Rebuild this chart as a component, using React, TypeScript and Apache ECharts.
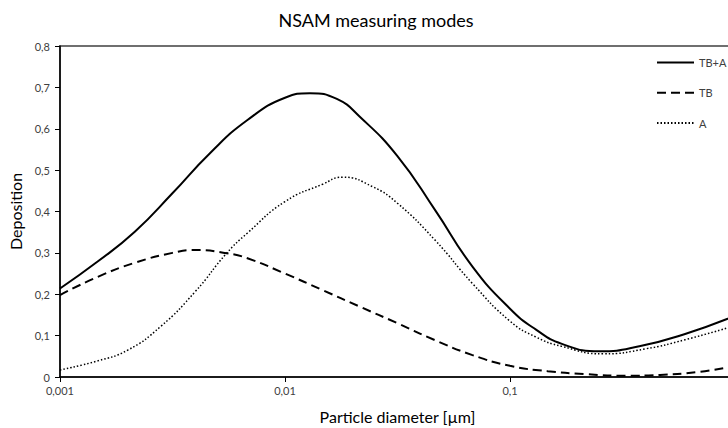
import React, { useEffect, useRef } from "react";
import * as echarts from "echarts";

// TB+A (solid)
const diamTbA = [0.001, 0.00147, 0.00215, 0.00316, 0.00464, 0.00681, 0.01, 0.0129, 0.017, 0.0215, 0.0316, 0.0464, 0.0681, 0.1, 0.13, 0.17, 0.25, 0.38, 0.6, 1.0];
const tbA = [0.214, 0.279, 0.351, 0.444, 0.541, 0.621, 0.675, 0.686, 0.672, 0.629, 0.534, 0.404, 0.267, 0.165, 0.115, 0.08, 0.062, 0.075, 0.104, 0.148];
// TB (dashed)
const diamTb = [0.001, 0.00147, 0.00215, 0.00316, 0.004, 0.0055, 0.00681, 0.01, 0.0147, 0.0215, 0.0316, 0.0464, 0.0681, 0.1, 0.147, 0.215, 0.33, 0.464, 0.681, 1.0];
const tb = [0.198, 0.242, 0.276, 0.3, 0.307, 0.299, 0.287, 0.25, 0.21, 0.17, 0.13, 0.089, 0.053, 0.027, 0.014, 0.007, 0.003, 0.005, 0.012, 0.026];
// A (dotted)
const diamA = [0.001, 0.00147, 0.002, 0.0028, 0.004, 0.0055, 0.00681, 0.01, 0.0147, 0.018, 0.0245, 0.0316, 0.0464, 0.0681, 0.1, 0.13, 0.17, 0.26, 0.4, 0.6, 1.0];
const a = [0.017, 0.039, 0.065, 0.122, 0.207, 0.299, 0.348, 0.424, 0.466, 0.483, 0.46, 0.42, 0.331, 0.226, 0.135, 0.097, 0.074, 0.056, 0.068, 0.09, 0.124];
const seriesNames = ["TB+A", "TB", "A"];

const FONT = "Lato, 'Open Sans', sans-serif";

export default function App() {
  const ref = useRef<HTMLDivElement>(null);
  useEffect(() => {
    if (!ref.current) return;
    const chart = echarts.init(ref.current, undefined, { renderer: "svg" });
    const pairs = (xs: number[], ys: number[]) => xs.map((d, i) => [d, ys[i]]);
    chart.setOption({
      animation: false,
      backgroundColor: "#ffffff",
      textStyle: { fontFamily: FONT },
      title: {
        text: "NSAM measuring modes",
        left: 371,
        textAlign: "center",
        top: 6,
        textStyle: { fontFamily: FONT, fontSize: 18, fontWeight: "normal", color: "#000" },
      },
      legend: {
        orient: "vertical",
        left: 651,
        top: 52,
        itemWidth: 37,
        itemHeight: 14,
        itemGap: 19,
        itemStyle: { opacity: 0 },
        textStyle: { fontFamily: FONT, fontSize: 11, color: "#404040" },
        data: seriesNames,
      },
      grid: {
        left: 60,
        top: 46,
        width: 675,
        height: 331,
        outerBoundsMode: "none",
        containLabel: false,
        show: true,
        borderColor: "#404040",
        borderWidth: 1.5,
        backgroundColor: "transparent",
      },
      xAxis: {
        type: "log",
        logBase: 10,
        min: 0.001,
        max: 1,
        name: "Particle diameter [µm]",
        nameLocation: "middle",
        nameGap: 31,
        nameTextStyle: { fontFamily: FONT, fontSize: 16, color: "#000" },
        axisLine: { lineStyle: { color: "#000", width: 1.5 } },
        axisTick: { show: true, length: 5, lineStyle: { color: "#000" } },
        splitLine: { show: false },
        minorTick: { show: false },
        axisLabel: {
          fontFamily: FONT,
          fontSize: 11,
          color: "#404040",
          margin: 8,
          formatter: (v: number) => (v >= 0.5 ? "" : String(Number(v.toPrecision(3))).replace(".", ",")),
        },
      },
      yAxis: {
        type: "value",
        min: 0,
        max: 0.8,
        interval: 0.1,
        name: "Deposition",
        nameLocation: "middle",
        nameGap: 34,
        nameTextStyle: { fontFamily: FONT, fontSize: 16, color: "#000" },
        axisLine: { show: true, lineStyle: { color: "#000", width: 1.5 } },
        axisTick: { show: true, length: 5, lineStyle: { color: "#000" } },
        splitLine: { show: false },
        axisLabel: {
          fontFamily: FONT,
          fontSize: 11,
          color: "#404040",
          margin: 10,
          formatter: (v: number) => (v === 0 ? "0" : v.toFixed(1).replace(".", ",")),
        },
      },
      series: [
        {
          name: seriesNames[0],
          type: "line",
          data: pairs(diamTbA, tbA),
          smooth: 0.5,
          symbol: "none",
          lineStyle: { color: "#000", width: 2, type: "solid" },
          itemStyle: { color: "#000" },
        },
        {
          name: seriesNames[1],
          type: "line",
          data: pairs(diamTb, tb),
          smooth: 0.5,
          symbol: "none",
          lineStyle: { color: "#000", width: 2, type: [9, 5] },
          itemStyle: { color: "#000" },
        },
        {
          name: seriesNames[2],
          type: "line",
          data: pairs(diamA, a),
          smooth: 0.5,
          symbol: "none",
          lineStyle: { color: "#000", width: 1.5, type: [1.5, 2] },
          itemStyle: { color: "#000" },
        },
      ],
    });
    return () => chart.dispose();
  }, []);
  return (
    <div
      ref={ref}
      style={{ position: "fixed", left: 0, top: 0, width: 728, height: 428, background: "#fff" }}
    />
  );
}
